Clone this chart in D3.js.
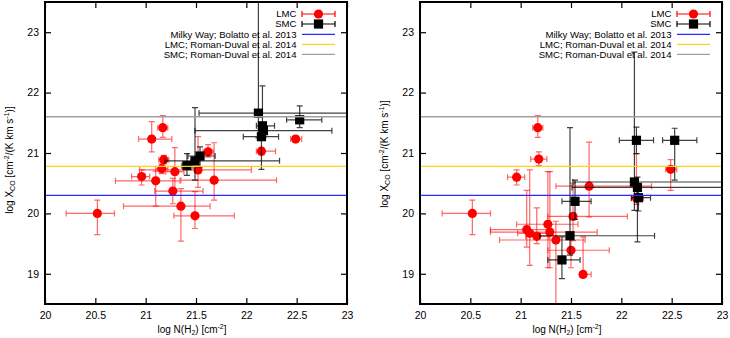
<!DOCTYPE html>
<html><head><meta charset="utf-8">
<script src="https://cdn.jsdelivr.net/npm/d3@7/dist/d3.min.js"></script>
<style>body{margin:0;background:#fff}svg{display:block;font-family:"Liberation Sans",Arial,sans-serif}</style>
</head><body><svg id="c" width="730" height="338"></svg>
<script>
// [x, y, xlow, xhigh, ylow, yhigh]
const lmcLeft = [
 [21.17,21.42,21.12,21.22,21.26,21.62],
 [21.06,21.23,20.93,21.26,21.02,21.52],
 [21.62,21.02,21.57,21.67,20.93,21.14],
 [21.18,20.89,21.13,21.23,20.82,20.96],
 [21.16,20.74,21.10,21.22,20.66,20.82],
 [21.29,20.69,21.20,21.38,20.40,21.09],
 [21.52,20.72,20.94,22.05,20.43,21.27],
 [20.96,20.61,20.86,21.04,20.47,20.72],
 [21.10,20.54,20.70,21.34,20.12,20.70],
 [21.68,20.55,21.35,22.30,20.22,21.17],
 [21.27,20.37,21.09,21.57,20.16,20.58],
 [21.35,20.12,20.78,21.64,19.54,20.41],
 [21.49,19.96,21.28,21.88,19.75,20.36],
 [20.52,20.00,20.21,20.69,19.65,20.22],
 [22.49,21.23,22.44,22.55,21.18,21.28],
 [22.15,21.03,22.10,22.29,20.97,21.09]
];
const smcLeft = [
 [22.12,21.66,21.53,23.60,21.25,24.00],
 [22.53,21.55,22.40,22.75,21.42,21.78],
 [22.16,21.45,22.10,22.28,21.30,22.11],
 [22.17,21.37,21.49,22.85,21.25,21.50],
 [22.15,21.27,21.97,22.32,20.73,21.40],
 [21.41,20.79,21.36,21.47,20.63,20.99],
 [21.49,20.87,21.19,22.33,20.55,21.75],
 [21.54,20.95,21.42,21.69,20.77,21.10]
];
const lmcRight = [
 [21.17,21.42,21.12,21.22,21.26,21.62],
 [21.18,20.90,21.10,21.26,20.79,21.02],
 [20.96,20.60,20.87,21.04,20.47,20.72],
 [20.52,20.00,20.22,20.70,19.65,20.22],
 [21.68,20.45,21.35,22.30,19.94,21.18],
 [21.52,19.95,21.27,22.06,19.55,20.50],
 [21.06,19.73,20.70,21.30,19.44,20.38],
 [21.09,19.67,20.97,21.30,19.14,20.72],
 [21.16,19.62,21.05,21.28,19.50,20.09],
 [21.27,19.82,20.96,21.57,19.10,20.69],
 [21.29,19.69,20.70,21.76,19.10,20.69],
 [21.35,19.56,20.79,21.64,18.00,19.87],
 [21.50,19.39,21.27,21.88,19.10,19.58],
 [21.62,18.99,21.59,21.70,18.95,19.61],
 [22.49,20.73,22.44,22.55,20.38,20.89],
 [22.15,20.25,22.10,22.22,20.15,20.99]
];
const smcRight = [
 [22.15,21.21,21.98,22.32,20.99,21.43],
 [22.53,21.21,22.41,22.75,20.55,21.41],
 [22.13,20.52,21.52,23.60,20.05,22.67],
 [22.16,20.43,21.51,23.60,19.53,20.60],
 [22.17,20.26,22.10,22.29,20.04,20.40],
 [21.54,20.20,21.41,21.70,19.90,20.55],
 [21.49,19.63,21.19,22.33,19.31,21.42],
 [21.41,19.23,21.27,21.59,18.92,19.61]
];
const refLabels = ["Milky Way; Bolatto et al. 2013","LMC; Roman-Duval et al. 2014","SMC;  Roman-Duval et al. 2014"];
const refValues = [20.30, 20.78, 21.60];
const refColors = ["#2b2bff","#ffd21e","#a0a0a0"];
const xTicks = [20,20.5,21,21.5,22,22.5,23];
const yTicks = [19,20,21,22,23];
const xDomain = [20,23], yDomain = [18.5,23.5];

const svg = d3.select("#c");
const pTop = 2, pBottom = 304, pw = 302;
const panels = [
  {x0:45, lmc:lmcLeft, smc:smcLeft, ylabX:9, ylabY:160},
  {x0:420, lmc:lmcRight, smc:smcRight, ylabX:384, ylabY:154}
];
const cap = 3;

function errPath(x, y, d){
  const X=x(d[0]), Y=y(d[1]), xl=x(d[2]), xh=x(d[3]), yl=y(d[4]), yh=y(d[5]);
  return `M${xl},${Y}H${xh}M${xl},${Y-cap}V${Y+cap}M${xh},${Y-cap}V${Y+cap}`+
         `M${X},${yl}V${yh}M${X-cap},${yl}H${X+cap}M${X-cap},${yh}H${X+cap}`;
}

panels.forEach((p,i)=>{
  const x = d3.scaleLinear().domain(xDomain).range([p.x0, p.x0+pw]);
  const y = d3.scaleLinear().domain(yDomain).range([pBottom, pTop]);
  const g = svg.append("g");
  const cid = "clip"+i;
  svg.append("clipPath").attr("id",cid).append("rect")
    .attr("x",p.x0).attr("y",pTop).attr("width",pw).attr("height",pBottom-pTop);
  const plot = g.append("g").attr("clip-path",`url(#${cid})`);

  // LMC
  plot.append("g").selectAll("path").data(p.lmc).join("path")
    .attr("d",d=>errPath(x,y,d)).attr("fill","none")
    .attr("stroke","#ff0000").attr("stroke-opacity",0.6).attr("stroke-width",1.2);
  plot.append("g").selectAll("circle").data(p.lmc).join("circle")
    .attr("cx",d=>x(d[0])).attr("cy",d=>y(d[1])).attr("r",4.6).attr("fill","#ff0000");
  // SMC
  plot.append("g").selectAll("path").data(p.smc).join("path")
    .attr("d",d=>errPath(x,y,d)).attr("fill","none")
    .attr("stroke","#000").attr("stroke-opacity",0.75).attr("stroke-width",1.2);
  plot.append("g").selectAll("rect").data(p.smc).join("rect")
    .attr("x",d=>x(d[0])-4.6).attr("y",d=>y(d[1])-4.6).attr("width",9.2).attr("height",9.2).attr("fill","#000");
  // reference lines
  plot.append("g").selectAll("line").data(refValues).join("line")
    .attr("x1",p.x0).attr("x2",p.x0+pw).attr("y1",d=>y(d)).attr("y2",d=>y(d))
    .attr("stroke",(d,j)=>refColors[j]).attr("stroke-width",1.3);

  // axes
  const ax = g.append("g").attr("transform",`translate(0,${pBottom})`)
    .call(d3.axisBottom(x).tickValues(xTicks).tickSize(-6).tickPadding(7.5).tickFormat(d3.format("")));
  const ay = g.append("g").attr("transform",`translate(${p.x0},0)`)
    .call(d3.axisLeft(y).tickValues(yTicks).tickSize(-6).tickPadding(6).tickFormat(d3.format("")));
  const at = g.append("g").attr("transform",`translate(0,${pTop})`)
    .call(d3.axisTop(x).tickValues(xTicks).tickSize(-6).tickFormat(""));
  const ar = g.append("g").attr("transform",`translate(${p.x0+pw},0)`)
    .call(d3.axisRight(y).tickValues(yTicks).tickSize(-6).tickFormat(""));
  [ax,ay,at,ar].forEach(a=>{
    a.select(".domain").remove();
    a.selectAll("line").attr("stroke","#000").attr("stroke-width",1.2);
    a.selectAll("text").attr("font-size","10.5px").attr("fill","#000")
      .attr("font-family","'Liberation Sans',Arial,sans-serif");
  });
  g.append("rect").attr("x",p.x0).attr("y",pTop).attr("width",pw).attr("height",pBottom-pTop)
    .attr("fill","none").attr("stroke","#000").attr("stroke-width",2);

  // axis titles
  const xt = g.append("text").attr("x",p.x0+pw/2-4).attr("y",333).attr("text-anchor","middle")
    .attr("font-size","10px");
  xt.append("tspan").text("log N(H");
  xt.append("tspan").text("2").attr("font-size","7px").attr("dy",2);
  xt.append("tspan").text(") [cm").attr("dy",-2);
  xt.append("tspan").text("-2").attr("font-size","7px").attr("dy",-4);
  xt.append("tspan").text("]").attr("dy",4);

  const yt = g.append("text").attr("transform",`translate(${p.ylabX+4},${p.ylabY}) rotate(-90)`)
    .attr("text-anchor","middle").attr("font-size","10px");
  yt.append("tspan").text("log X");
  yt.append("tspan").text("CO").attr("font-size","7px").attr("dy",2);
  yt.append("tspan").text(" [cm").attr("dy",-2);
  yt.append("tspan").text("-2").attr("font-size","7px").attr("dy",-4);
  yt.append("tspan").text("/(K km s").attr("dy",4);
  yt.append("tspan").text("-1").attr("font-size","7px").attr("dy",-4);
  yt.append("tspan").text(")]").attr("dy",4);

  // legend
  const lx = p.x0+251.5, sx1 = p.x0+257, sx2 = p.x0+290, sxm = (sx1+sx2)/2;
  const rows = [14,24,34.3,44.3,54.3];
  const lg = g.append("g").attr("font-size","9.6px");
  const names = ["LMC","SMC"].concat(refLabels);
  lg.selectAll("text").data(names).join("text")
    .attr("x",lx).attr("y",(d,j)=>rows[j]+3.4).attr("text-anchor","end").text(d=>d);
  lg.append("path").attr("d",`M${sx1},${rows[0]}H${sx2}M${sx1},${rows[0]-cap}V${rows[0]+cap}M${sx2},${rows[0]-cap}V${rows[0]+cap}`)
    .attr("stroke","#ff0000").attr("stroke-width",1.2).attr("fill","none");
  lg.append("circle").attr("cx",sxm).attr("cy",rows[0]).attr("r",4.6).attr("fill","#ff0000");
  lg.append("path").attr("d",`M${sx1},${rows[1]}H${sx2}M${sx1},${rows[1]-cap}V${rows[1]+cap}M${sx2},${rows[1]-cap}V${rows[1]+cap}`)
    .attr("stroke","#000").attr("stroke-width",1.2).attr("fill","none");
  lg.append("rect").attr("x",sxm-4.6).attr("y",rows[1]-4.6).attr("width",9.2).attr("height",9.2).attr("fill","#000");
  lg.selectAll("line").data(refColors).join("line")
    .attr("x1",sx1).attr("x2",sx2).attr("y1",(d,j)=>rows[j+2]).attr("y2",(d,j)=>rows[j+2])
    .attr("stroke",d=>d).attr("stroke-width",1.3);
});
</script></body></html>
